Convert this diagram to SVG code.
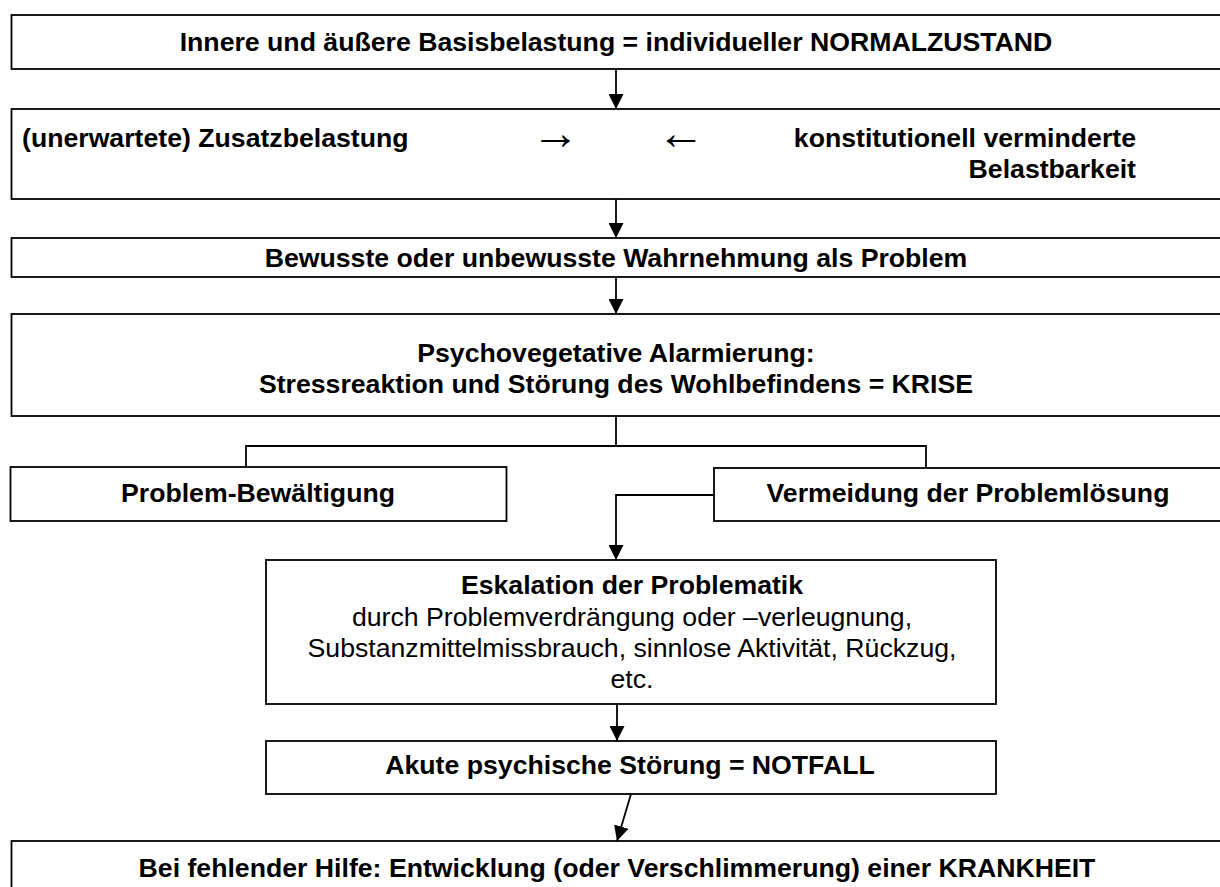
<svg xmlns="http://www.w3.org/2000/svg" width="1220" height="887" viewBox="0 0 1220 887">
<defs>
<style>
.box{fill:#fff;stroke:#000;stroke-width:1.8}
.t{font-family:"Liberation Sans",Arial,sans-serif;font-size:26.67px;fill:#000}
.b{font-weight:bold}
.c{text-anchor:middle}
.e{text-anchor:end}
.ar{font-family:"Liberation Sans",Arial,sans-serif;font-size:48px;fill:#000;text-anchor:middle}
.ln{fill:none;stroke:#000;stroke-width:1.8}
</style>
<marker id="ah" viewBox="0 0 10 10" refX="10" refY="5" markerWidth="15" markerHeight="15" markerUnits="userSpaceOnUse" orient="auto">
<path d="M0,0 L10,5 L0,10 z" fill="#000"/>
</marker>
</defs>
<rect width="1220" height="887" fill="#fff"/>
<g id="n1"><rect class="box" x="11.5" y="15" width="1212" height="54"/><text class="t b c" x="616" y="51">Innere und äußere Basisbelastung = individueller NORMALZUSTAND</text></g>
<g id="n2"><rect class="box" x="11.5" y="109" width="1212" height="90"/>
<text class="t b" x="22" y="147">(unerwartete) Zusatzbelastung</text>
<text class="ar" x="555.5" y="149">→</text>
<text class="ar" x="681" y="149">←</text>
<text class="t b e" x="1136" y="147">konstitutionell verminderte</text>
<text class="t b e" x="1136" y="178">Belastbarkeit</text></g>
<g id="n3"><rect class="box" x="11.5" y="238" width="1212" height="39"/><text class="t b c" x="616" y="267">Bewusste oder unbewusste Wahrnehmung als Problem</text></g>
<g id="n4"><rect class="box" x="11.5" y="314" width="1212" height="102"/><text class="t b c" x="616" y="362">Psychovegetative Alarmierung:</text><text class="t b c" x="616" y="393">Stressreaktion und Störung des Wohlbefindens = KRISE</text></g>
<g id="n5"><rect class="box" x="10.5" y="467" width="496" height="54"/><text class="t b c" x="258" y="502">Problem-Bewältigung</text></g>
<g id="n6"><rect class="box" x="714" y="468" width="510" height="53"/><text class="t b c" x="968" y="502">Vermeidung der Problemlösung</text></g>
<g id="n7"><rect class="box" x="266" y="560" width="730" height="144"/>
<text class="t b c" x="632" y="594">Eskalation der Problematik</text>
<text class="t c" x="632" y="626">durch Problemverdrängung oder –verleugnung,</text>
<text class="t c" x="632" y="657">Substanzmittelmissbrauch, sinnlose Aktivität, Rückzug,</text>
<text class="t c" x="632" y="688">etc.</text></g>
<g id="n8"><rect class="box" x="266" y="741" width="730" height="53"/><text class="t b c" x="630" y="774">Akute psychische Störung = NOTFALL</text></g>
<g id="n9"><rect class="box" x="11.5" y="841" width="1212" height="60"/><text class="t b c" x="617" y="877">Bei fehlender Hilfe: Entwicklung (oder Verschlimmerung) einer KRANKHEIT</text></g>
<g id="connectors">
<line class="ln" x1="616" y1="69" x2="616" y2="109" marker-end="url(#ah)"/>
<line class="ln" x1="616" y1="199" x2="616" y2="238" marker-end="url(#ah)"/>
<line class="ln" x1="616" y1="277" x2="616" y2="314" marker-end="url(#ah)"/>
<polyline class="ln" points="616,416 616,446"/>
<polyline class="ln" points="246,467 246,446 926,446 926,468"/>
<polyline class="ln" points="714,495 616,495 616,560" marker-end="url(#ah)"/>
<line class="ln" x1="617" y1="704" x2="617" y2="741" marker-end="url(#ah)"/>
<line class="ln" x1="631" y1="794" x2="617" y2="841" marker-end="url(#ah)"/>
</g>
</svg>
